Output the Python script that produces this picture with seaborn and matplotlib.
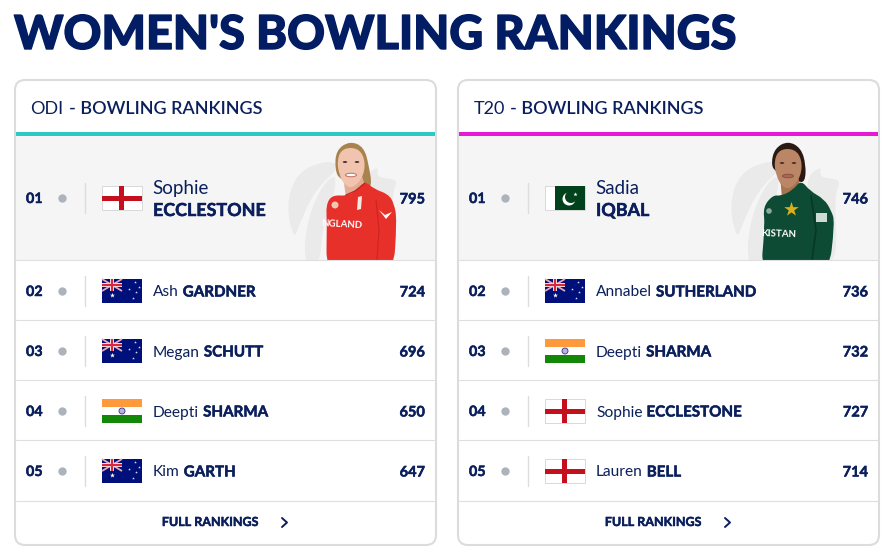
import numpy as np
import pandas as pd
from matplotlib import pyplot as plt
from matplotlib import patheffects as pe
from matplotlib.patches import FancyBboxPatch, Rectangle, Circle, Ellipse, PathPatch, Polygon
from matplotlib.path import Path
import seaborn as sns

NAVY = '#0a1f5c'

# the two tables
ranks = ['01', '02', '03', '04', '05']
odi_first = ['Sophie', 'Ash', 'Megan', 'Deepti', 'Kim']
odi_last = ['ECCLESTONE', 'GARDNER', 'SCHUTT', 'SHARMA', 'GARTH']
odi_flags = ['eng', 'aus', 'aus', 'ind', 'aus']
odi_points = [795, 724, 696, 650, 647]
t20_first = ['Sadia', 'Annabel', 'Deepti', 'Sophie', 'Lauren']
t20_last = ['IQBAL', 'SUTHERLAND', 'SHARMA', 'ECCLESTONE', 'BELL']
t20_flags = ['pak', 'aus', 'ind', 'eng', 'eng']
t20_points = [746, 736, 732, 727, 714]

sns.set_theme(style='white')
plt.rcParams['font.family'] = ['Lato', 'DejaVu Sans']
# seaborn puts a white edge on every patch, not wanted here
plt.rcParams['patch.force_edgecolor'] = False
plt.rcParams['patch.edgecolor'] = 'none'

fig = plt.figure(figsize=(8.95, 5.53), dpi=100)
ax = fig.add_axes([0, 0, 1, 1])
ax.set_xlim(0, 895)
ax.set_ylim(553, 0)

thick = [pe.withStroke(linewidth=0.35, foreground=NAVY)]


def blob(pts, color, z=3):
    # smooth closed shape through the midpoints of pts, cut at the bottom of the top row
    pts = np.array(pts, dtype=float)
    mids = (pts + np.roll(pts, -1, axis=0)) / 2
    verts = [mids[-1]]
    codes = [Path.MOVETO]
    for p, m in zip(pts, mids):
        verts += [p, m]
        codes += [Path.CURVE3, Path.CURVE3]
    patch = PathPatch(Path(verts, codes), fc=color, ec='none', zorder=z)
    ax.add_patch(patch)
    patch.set_clip_path(Rectangle((0, 136), 895, 124, transform=ax.transData))


def flag(kind, x, y):
    w, h = 40, 24
    if kind == 'eng':
        ax.add_patch(Rectangle((x, y), w, h, fc='white', ec='#d8d8d8', lw=0.7, zorder=3))
        ax.add_patch(Rectangle((x, y + h / 2 - 2.5), w, 5, fc='#c40f1f', zorder=4))
        ax.add_patch(Rectangle((x + w / 2 - 2.5, y), 5, h, fc='#c40f1f', zorder=4))
    elif kind == 'ind':
        ax.add_patch(Rectangle((x, y), w, h / 3, fc='#ff9a3c', zorder=3))
        ax.add_patch(Rectangle((x, y + h / 3), w, h / 3, fc='white', zorder=3))
        ax.add_patch(Rectangle((x, y + 2 * h / 3), w, h / 3, fc='#138808', zorder=3))
        ax.add_patch(Circle((x + w / 2, y + h / 2), 3, fc='#b5b5d8', ec='#30309a', lw=0.6, zorder=4))
    elif kind == 'pak':
        ax.add_patch(Rectangle((x, y), w, h, fc='white', ec='#d8d8d8', lw=0.7, zorder=3))
        ax.add_patch(Rectangle((x + 10.5, y), w - 10.5, h, fc='#01411c', zorder=4))
        ax.add_patch(Circle((x + 24, y + 13), 6.5, fc='white', zorder=5))
        ax.add_patch(Circle((x + 26, y + 11), 6, fc='#01411c', zorder=6))
        ax.scatter([x + 30], [y + 8], s=10, marker='*', c='white', lw=0, zorder=7)
    else:
        ax.add_patch(Rectangle((x, y), w, h, fc='#00107a', zorder=3))
        for a, b in [((x, y), (x + 20, y + 12)), ((x, y + 12), (x + 20, y))]:
            ax.plot([a[0], b[0]], [a[1], b[1]], color='#e9a9b8', lw=1.3, zorder=5, solid_capstyle='butt')
        ax.add_patch(Rectangle((x, y + 4), 20, 4, fc='#f6d3da', zorder=6))
        ax.add_patch(Rectangle((x + 8, y), 4, 12, fc='#f6d3da', zorder=6))
        ax.add_patch(Rectangle((x, y + 5), 20, 2, fc='#d8263c', zorder=7))
        ax.add_patch(Rectangle((x + 9, y), 2, 12, fc='#d8263c', zorder=7))
        ax.scatter([x + 10], [y + 16], s=14, marker='*', c='white', lw=0, zorder=5)
        ax.scatter([x + 33, x + 31, x + 27, x + 37, x + 34], [y + 3, y + 19, y + 10, y + 8, y + 13],
                   s=4, marker='*', c='#e8e8f4', lw=0, zorder=5)


def watermark(x0):
    # faint trophy swoosh behind the player, x0 is the card's left edge
    c = '#eaeaeb'
    blob([(x0 + 279, 240), (x0 + 271, 205), (x0 + 282, 172), (x0 + 312, 160), (x0 + 326, 166),
          (x0 + 300, 190), (x0 + 284, 225)], c, 2)
    blob([(x0 + 289, 265), (x0 + 291, 225), (x0 + 305, 188), (x0 + 322, 172), (x0 + 318, 200),
          (x0 + 307, 230), (x0 + 305, 265)], c, 2)
    blob([(x0 + 345, 180), (x0 + 364, 165), (x0 + 361, 178), (x0 + 384, 179), (x0 + 376, 195),
          (x0 + 380, 262), (x0 + 360, 262)], c, 2)


def face(cx, cy, skin, lip, teeth):
    blob([(cx - 14, cy - 6), (cx - 8, cy - 17), (cx + 7, cy - 17), (cx + 14, cy - 6), (cx + 13, cy + 10),
          (cx + 4, cy + 22), (cx - 5, cy + 22), (cx - 12, cy + 10)], skin, 5)
    for dx in (-6, 6):
        ax.add_patch(Ellipse((cx + dx, cy - 3), 4.5, 1.8, fc='#3a2a24', zorder=6))
    ax.add_patch(Ellipse((cx, cy + 10), 11, 3.5, fc=teeth, ec=lip, lw=0.7, zorder=6))


def sophie():
    blob([(335, 170), (336, 150), (350, 141), (364, 147), (369, 166), (372, 186), (366, 188), (340, 180)], '#a8834e', 3)
    ax.add_patch(Polygon([(343, 176), (362, 176), (367, 192), (346, 198)], fc='#e3ad95', zorder=4))
    face(351, 165, '#f0c4ae', '#c46a60', 'white')
    blob([(347, 196), (357, 190), (365, 181), (374, 189), (388, 194), (394, 203), (397, 220), (393, 280), (326, 280),
          (327, 222), (326, 205), (332, 195)], '#e8302b', 7)
    ax.plot([346, 355, 365], [195, 191, 183], color='#c6201f', lw=0.9, zorder=8)
    ax.plot([376, 379, 377], [200, 230, 260], color='#cb2422', lw=0.8, zorder=8)
    ax.text(342, 225, 'NGLAND', color='white', fontsize=7, fontweight='bold', ha='center', va='center',
            rotation=-3, stretch='condensed', zorder=9)
    ax.add_patch(Polygon([(358, 197), (362, 196), (361, 209), (357, 210)], fc='#f7e8e0', zorder=9))
    ax.add_patch(Circle((335, 205), 3.5, fc='#f0c8b0', zorder=9))
    ax.add_patch(Polygon([(379, 210), (385, 215), (392, 212), (386, 219)], fc='white', zorder=9))


def sadia():
    blob([(771, 163), (775, 148), (788, 141), (801, 148), (806, 165), (805, 182), (798, 182), (775, 172)], '#2b1a14', 3)
    ax.add_patch(Polygon([(780, 176), (798, 176), (801, 190), (782, 198)], fc='#a8744f', zorder=4))
    face(788, 166, '#bb8666', '#8c4f40', '#a86a58')
    blob([(781, 196), (793, 190), (801, 180), (810, 191), (824, 199), (831, 210), (835, 222), (828, 280), (760, 280),
          (765, 225), (763, 207), (773, 195)], '#0e4b35', 7)
    ax.plot([811, 816, 812], [196, 230, 260], color='#0a3627', lw=1.2, zorder=8)
    ax.text(779, 234, 'KISTAN', color='white', fontsize=7, fontweight='bold', ha='center', va='center',
            rotation=-2, stretch='condensed', zorder=9)
    ax.scatter([791], [209], s=120, marker='*', c='#d8b01e', lw=0, zorder=9)
    ax.add_patch(Rectangle((816, 213), 11, 9, fc='#cfdad5', zorder=9))
    ax.add_patch(Circle((769, 211), 2.8, fc='#8fa89c', zorder=9))


def card(x0, fmt, accent, first, last, flags, points, player):
    x1 = x0 + 421
    ax.add_patch(FancyBboxPatch((x0 + 10, 90), 401, 445, boxstyle='round,pad=10,rounding_size=10',
                                fc='white', ec='#dcdcdc', lw=1.5, zorder=1))
    ax.add_patch(Rectangle((x0 + 1, 136), 419, 124, fc='#f5f5f6', zorder=1))
    ax.add_patch(Rectangle((x0 + 1, 132), 419, 4, fc=accent, zorder=2))
    watermark(x0)
    player()

    r = fig.canvas.get_renderer()
    t = ax.text(x0 + 15.5, 108, fmt, color=NAVY, fontsize=13, va='center_baseline', zorder=9)
    ex = ax.transData.inverted().transform(t.get_window_extent(r).get_points())[1, 0]
    ax.text(ex + 5, 108, '- BOWLING RANKINGS', color=NAVY, fontsize=13, fontweight='semibold',
            va='center_baseline', zorder=9)

    df = pd.DataFrame({'rank': ranks, 'first': first, 'last': last, 'flag': flags, 'points': points})
    # first row is the tall one, the others are 60px each
    df['y'] = [198] + [291 + 60 * i for i in range(len(df) - 1)]
    df['dot'] = x0 + 47
    sns.scatterplot(data=df, x='dot', y='y', color='#adb3ba', s=36, linewidth=0, ax=ax, zorder=5, legend=False)

    for i, row in df.iterrows():
        y = row['y']
        ax.text(x0 + 11, y, row['rank'], color=NAVY, fontsize=10.3, fontweight='bold', va='center_baseline',
                zorder=9, path_effects=thick)
        ax.plot([x0 + 70, x0 + 70], [y - 15, y + 15], color='#dddddd', lw=1, zorder=3)
        flag(row['flag'], x0 + 87, y - 12)
        if i == 0:
            ax.text(x0 + 137.5, y - 11, row['first'], color=NAVY, fontsize=13.5, va='center_baseline', zorder=9)
            ax.text(x0 + 138, y + 11, row['last'], color=NAVY, fontsize=12.9, fontweight='bold',
                    va='center_baseline', zorder=9, path_effects=thick)
        else:
            t = ax.text(x0 + 138, y, row['first'], color=NAVY, fontsize=11.2, va='center_baseline', zorder=9)
            ex = ax.transData.inverted().transform(t.get_window_extent(r).get_points())[1, 0]
            ax.text(ex + 4, y, row['last'], color=NAVY, fontsize=10.9, fontweight='bold', va='center_baseline',
                    zorder=9, path_effects=thick)
            ax.plot([x0 + 1, x1 - 1], [y - 31, y - 31], color='#dfdfdf', lw=0.8, zorder=8)
        ax.text(x1 - 11, y, str(row['points']), color=NAVY, fontsize=10.5, fontweight='bold', ha='right',
                va='center_baseline', zorder=9, path_effects=thick)
    ax.plot([x0 + 1, x1 - 1], [500.5, 500.5], color='#dfdfdf', lw=0.8, zorder=8)
    ax.text(x0 + 195, 521, 'FULL RANKINGS', color=NAVY, fontsize=9, fontweight='bold', ha='center',
            va='center_baseline', zorder=9, path_effects=thick)
    ax.plot([x0 + 267, x0 + 272, x0 + 267], [518, 522.5, 527], color=NAVY, lw=1.4, zorder=9)


ax.text(14, 31, "WOMEN'S BOWLING RANKINGS", color='#021d63', fontsize=33.7, fontweight='black',
        va='center_baseline', path_effects=[pe.withStroke(linewidth=1.0, foreground='#021d63')])
card(15, 'ODI', '#2cc9c5', odi_first, odi_last, odi_flags, odi_points, sophie)
card(458, 'T20', '#e619d6', t20_first, t20_last, t20_flags, t20_points, sadia)

ax.set_xlim(0, 895)
ax.set_ylim(553, 0)
ax.set_axis_off()
fig.savefig('out.png', dpi=100, facecolor='white')
